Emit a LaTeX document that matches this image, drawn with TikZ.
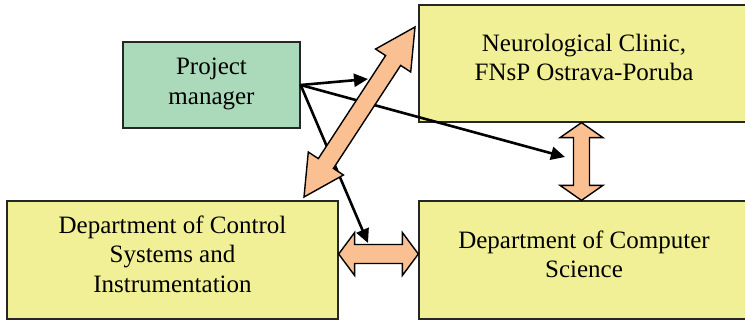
\documentclass[tikz,border=0pt]{standalone}
\usepackage{fontspec}
\setmainfont{Liberation Serif}
\usetikzlibrary{calc,arrows.meta}

\definecolor{verde}{RGB}{170,218,186}
\definecolor{amarillo}{RGB}{242,240,150}
\definecolor{naranja}{RGB}{250,192,146}

% flecha doble gruesa: extremos #1 y #2, medio ancho del cuerpo #3,
% medio ancho de la punta #4, largo de la punta #5
\newcommand{\flechadoble}[5]{%
	\draw[flecha] (#1) -- ($(#1)!#5!(#2)!#4!90:(#2)$) -- ($(#1)!#5!(#2)!#3!90:(#2)$)
	-- ($(#2)!#5!(#1)!#3!-90:(#1)$) -- ($(#2)!#5!(#1)!#4!-90:(#1)$) -- (#2)
	-- ($(#2)!#5!(#1)!#4!90:(#1)$) -- ($(#2)!#5!(#1)!#3!90:(#1)$)
	-- ($(#1)!#5!(#2)!#3!-90:(#2)$) -- ($(#1)!#5!(#2)!#4!-90:(#2)$) -- cycle;}

\begin{document}
\begin{tikzpicture}[x=1pt,y=-1pt]
	\tikzstyle{caja}=[draw=black!85,line width=1.3pt,inner sep=0pt,align=center,fill=amarillo,
		font=\fontsize{25}{29.5}\selectfont,text depth=12pt]
	\tikzstyle{jefe}=[caja,fill=verde,text depth=8pt]
	\tikzstyle{linea}=[line width=2.6pt,-{Triangle[length=14pt,width=13pt]}]
	\tikzstyle{flecha}=[draw=black,line width=1.4pt,fill=naranja,line join=miter]
	
	\useasboundingbox (0,0) rectangle (745,322);
	
	% Cajas
	\node[jefe,minimum width=177pt,minimum height=86pt] (PM) at (211.5,85) {Project\\manager};
	\node[caja,minimum width=330pt,minimum height=117pt] (NC) at (584,63.5) {Neurological Clinic,\\FNsP Ostrava-Poruba};
	\node[caja,minimum width=331pt,minimum height=118pt] (DC) at (172.5,260) {Department of Control\\Systems and\\Instrumentation};
	\node[caja,minimum width=330pt,minimum height=118pt] (DCS) at (584,260) {Department of Computer\\Science};
	
	% Flechas entre departamentos
	\coordinate (H-1) at ($(DC.east)+(0,-6)$);
	\coordinate (H-2) at ($(DCS.west)+(0,-6)$);
	\flechadoble{H-1}{H-2}{9.5pt}{21.5pt}{16pt}
	\coordinate (V-1) at ($(NC.south)+(-2.5,0)$);
	\coordinate (V-2) at ($(DCS.north)+(-2.5,0)$);
	\flechadoble{V-1}{V-2}{8pt}{21.5pt}{15pt}
	
	% Flechas del jefe de proyecto
	\coordinate (P-1) at (368,79);
	\coordinate (P-2) at (565,157);
	\coordinate (P-3) at (368,243);
	\foreach \dest in {1,...,3}
	\draw[linea] (PM.east) -- (P-\dest);
	
	% Flecha diagonal
	\coordinate (D-1) at (304,197);
	\coordinate (D-2) at (415,27);
	\flechadoble{D-1}{D-2}{9pt}{21pt}{40pt}
\end{tikzpicture}
\end{document}
